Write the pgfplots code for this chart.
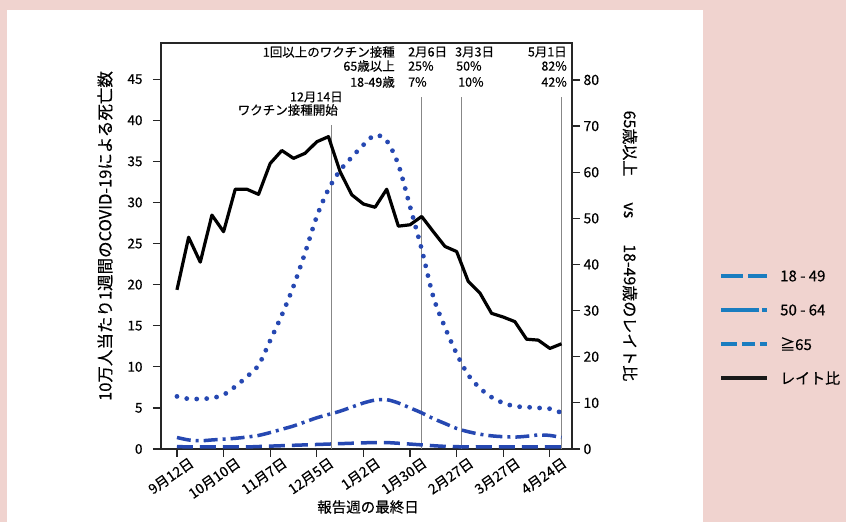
\documentclass[border=0pt]{standalone}
\usepackage{pgfplots}
\pgfplotsset{compat=1.18}
\usepackage{fontspec}
\setmainfont{Noto Sans CJK JP}[FakeBold=0.4]
\definecolor{bgpink}{RGB}{240,211,207}
\definecolor{cblue}{RGB}{38,72,178}
\definecolor{lblue}{RGB}{26,125,192}
\definecolor{vgray}{RGB}{135,135,135}
\pgfplotstableread{
w r
0 34.5
1 45.9
2 40.5
3 50.7
4 47.1
5 56.3
6 56.3
7 55.2
8 61.9
9 64.7
10 63.0
11 64.1
12 66.6
13 67.7
14 60.1
15 55.1
16 53.1
17 52.4
18 56.3
19 48.3
20 48.6
21 50.4
22 47.1
23 43.9
24 42.8
25 36.3
26 33.8
27 29.4
28 28.6
29 27.6
30 23.8
31 23.6
32 21.8
33 22.8
}\ratio
\pgfplotstableread{
w a b c
0 0.30 1.40 6.4
1 0.25 1.10 6.1
2 0.25 1.00 6.1
3 0.25 1.10 6.2
4 0.25 1.20 6.6
5 0.25 1.30 7.6
6 0.25 1.45 8.8
7 0.30 1.65 10.2
8 0.35 2.00 13.2
9 0.40 2.40 16.3
10 0.45 2.80 19.8
11 0.50 3.30 23.9
12 0.55 3.80 28.3
13 0.60 4.20 31.6
14 0.65 4.60 33.9
15 0.70 5.10 35.5
16 0.75 5.60 37.0
17 0.78 5.95 38.2
18 0.78 6.00 37.5
19 0.70 5.60 34.6
20 0.60 5.00 29.5
21 0.50 4.40 24.3
22 0.40 3.70 18.5
23 0.32 3.10 14.8
24 0.28 2.50 11.6
25 0.25 2.10 9.0
26 0.25 1.80 7.4
27 0.25 1.60 6.3
28 0.25 1.50 5.6
29 0.25 1.45 5.2
30 0.25 1.55 5.1
31 0.25 1.70 5.0
32 0.25 1.65 4.9
33 0.25 1.40 4.4
}\deaths
\begin{document}
\begin{tikzpicture}[x=1pt,y=1pt]
\fill[bgpink] (0,0) rectangle (846,522);
\fill[white] (7,0) rectangle (703,512);
\begin{axis}[
  at={(161pt,73pt)}, anchor=south west,
  scale only axis, width=411pt, height=406pt,
  xmin=-1.37, xmax=33.9, ymin=0, ymax=49.4,
  axis line style={line width=1.3pt, black!85},
  ytick={0,5,...,45}, ytick pos=left,
  xtick={0,4,...,32}, xtick pos=bottom,
  xticklabels={9月12日,10月10日,11月7日,12月5日,1月2日,1月30日,2月27日,3月27日,4月24日},
  tick align=outside, major tick length=8pt,
  tick style={line width=1.2pt, black!85},
  /pgf/number format/assume math mode=true,
  ticklabel style={font=\fontsize{13.5}{14}\selectfont},
  xticklabel style={font=\fontsize{14}{14}\selectfont, rotate=35, anchor=north east, inner sep=1pt, xshift=11pt, yshift=-5pt},
  yticklabel style={xshift=-7pt},
  clip=false,
]
\addplot[vgray, line width=1.3pt] coordinates {(13.29,0) (13.29,39.4)};
\addplot[vgray, line width=1.3pt] coordinates {(21,0) (21,42.8)};
\addplot[vgray, line width=1.3pt] coordinates {(24.43,0) (24.43,42.8)};
\addplot[vgray, line width=1.3pt] coordinates {(33,0) (33,42.8)};
\addplot[cblue, line width=3.5pt, dash pattern=on 16pt off 7pt, smooth] table[x=w,y=a] {\deaths};
\addplot[cblue, line width=3.5pt, dash pattern=on 14pt off 5pt on 3pt off 5pt, smooth] table[x=w,y=b] {\deaths};
\addplot[cblue, line width=4.8pt, line cap=round, dash pattern=on 0pt off 10pt, smooth] table[x=w,y=c] {\deaths};
\end{axis}
\begin{axis}[
  at={(161pt,73pt)}, anchor=south west,
  scale only axis, width=411pt, height=406pt,
  xmin=-1.37, xmax=33.9, ymin=0, ymax=88.0,
  axis x line=none, axis y line*=right,
  axis line style={line width=1.3pt, black!85},
  ytick={0,10,...,80},
  tick align=outside, major tick length=8pt,
  tick style={line width=1.2pt, black!85},
  /pgf/number format/assume math mode=true,
  ticklabel style={font=\fontsize{14}{14}\selectfont},
  clip=false,
]
\addplot[black, line width=3.2pt, line join=round] table[x=w,y=r] {\ratio};
\end{axis}
% axis titles
\node[rotate=90, font=\fontsize{16.5}{17}\selectfont] at (105,286) {10万人当たり1週間のCOVID-19による死亡数};
\node[rotate=-90, font=\fontsize{16}{16}\selectfont] at (630,276) {65歳以上\hspace{26pt}vs\hspace{26pt}18-49歳のレイト比};
\node[font=\fontsize{14.5}{15}\selectfont] at (368,15) {報告週の最終日};
% annotations
\begin{scope}[font=\fontsize{12.5}{12.5}\selectfont, inner sep=0pt]
\node[anchor=east] at (395,470) {1回以上のワクチン接種};
\node[anchor=east] at (395,456) {65歳以上};
\node[anchor=east] at (395,440) {18-49歳};
\node[anchor=west] at (408,470) {2月6日};
\node[anchor=west] at (408,456) {25\%};
\node[anchor=west] at (408,440) {7\%};
\node[anchor=west] at (455,470) {3月3日};
\node[anchor=west] at (456,456) {50\%};
\node[anchor=west] at (458,440) {10\%};
\node[anchor=east] at (567,470) {5月1日};
\node[anchor=east] at (567,456) {82\%};
\node[anchor=east] at (567,440) {42\%};
\node[anchor=east] at (343,425) {12月14日};
\node[anchor=east] at (338,412) {ワクチン接種開始};
\end{scope}
% legend
\begin{scope}[line width=3.2pt]
\draw[lblue] (721,246)--(743,246) (748,246)--(767,246);
\draw[lblue] (721,212)--(759,212) (762,212)--(767,212);
\draw[lblue] (721,178)--(737,178) (742,178)--(755,178) (760,178)--(767,178);
\draw[black!90] (721,144)--(767,144);
\end{scope}
\begin{scope}[font=\fontsize{15}{15}\selectfont, inner sep=0pt]
\node[anchor=west] at (780,246) {18 - 49};
\node[anchor=west] at (780,212) {50 - 64};
\node[anchor=west] at (780,178) {≧65};
\node[anchor=west] at (780,144) {レイト比};
\end{scope}
\end{tikzpicture}
\end{document}
